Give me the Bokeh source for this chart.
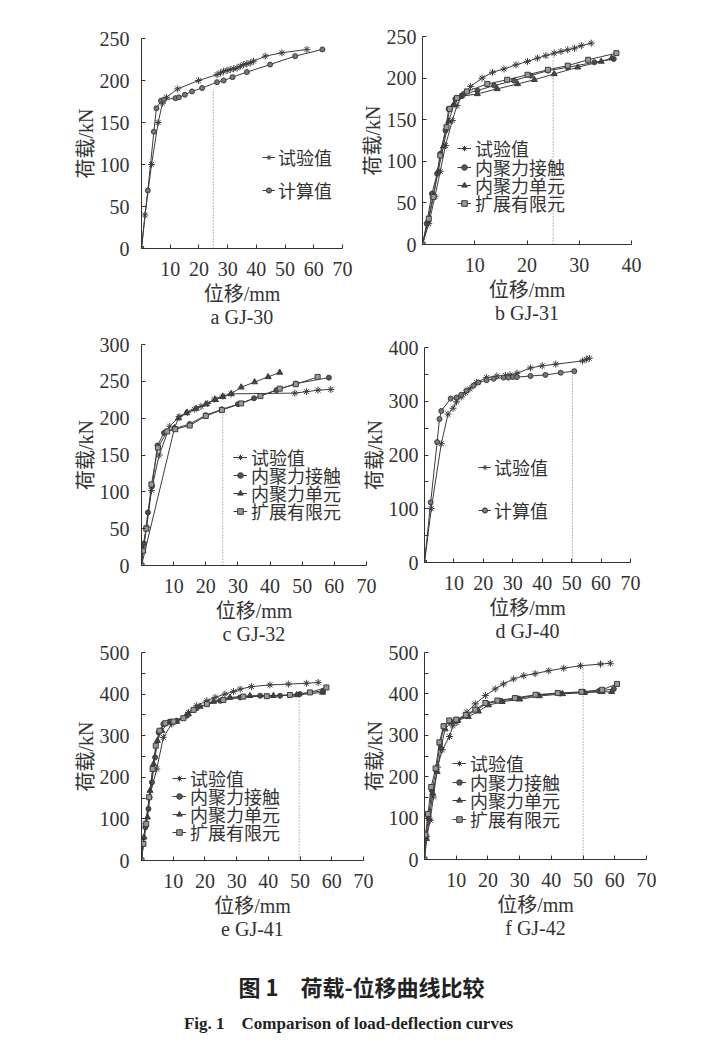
from bokeh.plotting import figure
from bokeh.models import Range1d, FixedTicker, Legend, LegendItem, Label
from bokeh.layouts import column
from bokeh.embed import file_html
from bokeh.resources import INLINE

# ---------------- data (displacement mm / load kN) ----------------
A_TEST_X = [0, 1.2, 3.5, 5.8, 7.3, 8.7, 12.6, 19.9, 26.3, 27.5, 28.6, 29.8, 30.9, 32.1, 33.3, 34.4, 35.6, 36.7, 37.9, 39.0, 43.1, 48.9, 57.6]
A_TEST_Y = [0, 40, 100, 150, 173, 180, 190, 200, 207, 209, 211, 212, 213, 214, 215, 217, 219, 220, 221, 223, 229, 233, 237]
A_CALC_X = [0, 2.2, 4.3, 5.2, 6.8, 7.8, 11.8, 13.0, 15.1, 17.6, 21.1, 26.3, 28.6, 31.7, 36.7, 44.8, 53.5, 63.0]
A_CALC_Y = [0, 69, 139, 167, 176, 177, 179, 180, 183, 187, 191, 198, 200, 204, 210, 219, 229, 237]

B_TEST_X = [0, 1.2, 2.4, 3.4, 4.4, 5.7, 6.6, 7.6, 9.2, 11.4, 13.4, 15.6, 17.9, 20.1, 22.0, 23.6, 25.2, 26.5, 27.8, 29.1, 30.4, 32.3]
B_TEST_Y = [0, 25, 58, 88, 119, 149, 167, 179, 190, 200, 207, 211, 216, 220, 224, 227, 230, 232, 234, 236, 239, 242]
B_CONT_X = [0, 0.8, 1.8, 2.8, 3.4, 4.4, 5.0, 6.3, 7.9, 10.5, 13.7, 17.5, 20.7, 24.0, 27.8, 32.9, 36.6]
B_CONT_Y = [0, 25, 61, 85, 109, 137, 163, 175, 181, 185, 191, 197, 203, 209, 213, 219, 223]
B_ELEM_X = [0, 1.0, 2.0, 3.0, 4.0, 5.0, 6.0, 7.3, 10.5, 14.3, 18.2, 21.4, 25.2, 29.7, 34.2, 36.2]
B_ELEM_Y = [0, 28, 58, 88, 118, 148, 168, 178, 181, 187, 193, 198, 205, 213, 220, 224]
B_XFEM_X = [0, 1.2, 2.1, 3.4, 4.6, 5.2, 6.6, 8.5, 12.4, 16.2, 20.1, 24.0, 27.8, 31.7, 37.1]
B_XFEM_Y = [0, 31, 57, 107, 141, 163, 176, 184, 193, 198, 204, 210, 215, 222, 230]

C_TEST_X = [0, 0.4, 1.6, 3.1, 5.5, 8.8, 11.7, 14.3, 16.4, 18.5, 20.6, 22.7, 25.3, 27.9, 47.7, 51.3, 54.9, 58.9]
C_TEST_Y = [0, 25, 52, 102, 150, 189, 202, 208, 212, 216, 220, 226, 230, 233, 234, 236, 238, 239]
C_CONT_X = [0, 0.8, 2.0, 3.3, 5.0, 7.0, 10.4, 15.0, 20.0, 25.0, 30.0, 35.0, 42.0, 48.0, 58.3]
C_CONT_Y = [0, 30, 72, 108, 163, 180, 186, 192, 204, 212, 219, 227, 238, 247, 255]
C_ELEM_X = [0, 10.3, 11.5, 14.0, 17.0, 20.0, 23.0, 25.3, 27.9, 31.0, 35.2, 39.4, 43.0]
C_ELEM_Y = [0, 187, 200, 207, 213, 219, 225, 229, 233, 242, 249, 256, 262]
C_XFEM_X = [0, 0.5, 1.5, 3.1, 5.1, 8.0, 10.5, 15.0, 20.0, 25.0, 31.0, 37.0, 43.0, 48.0, 54.8]
C_XFEM_Y = [0, 20, 50, 110, 160, 182, 185, 190, 203, 211, 220, 230, 240, 246, 256]

D_TEST_X = [0, 2.3, 5.7, 8.0, 9.7, 10.9, 12.5, 14.0, 15.4, 17.7, 21.1, 24.6, 27.5, 29.1, 31.4, 36.0, 40.0, 44.6, 53.7, 55.0, 56.0]
D_TEST_Y = [0, 100, 221, 276, 287, 299, 308, 316, 323, 335, 344, 347, 348, 349, 352, 362, 366, 369, 375, 378, 380]
D_CALC_X = [0, 2.1, 4.3, 5.1, 5.7, 8.9, 10.9, 12.5, 14.3, 16.6, 18.3, 21.1, 23.5, 26.9, 28.5, 30.0, 31.4, 36.0, 41.1, 46.3, 50.9]
D_CALC_Y = [0, 112, 224, 267, 282, 305, 307, 312, 320, 329, 335, 339, 342, 344, 344, 345, 345, 347, 349, 353, 356]

E_TEST_X = [0, 1.2, 2.5, 4.8, 6.9, 9.5, 14.8, 17.4, 20.6, 23.2, 26.3, 29.0, 31.1, 34.7, 40.5, 46.3, 52.0, 55.7]
E_TEST_Y = [0, 88, 152, 220, 296, 328, 356, 372, 384, 392, 400, 406, 412, 418, 422, 424, 426, 428]
E_CONT_X = [0, 0.4, 1.2, 2.2, 3.3, 4.3, 5.4, 6.9, 9.0, 11.1, 14.3, 17.4, 20.6, 24.8, 31.1, 37.4, 43.7, 49.9, 57.3]
E_CONT_Y = [0, 40, 80, 124, 188, 248, 308, 328, 334, 336, 348, 366, 376, 384, 392, 396, 396, 400, 408]
E_ELEM_X = [0, 0.8, 1.9, 2.7, 3.8, 5.0, 6.4, 8.5, 11.1, 14.8, 18.5, 22.7, 27.9, 34.2, 41.6, 48.9, 57.1]
E_ELEM_Y = [0, 56, 104, 168, 232, 288, 312, 332, 334, 352, 370, 382, 392, 396, 396, 398, 404]
E_XFEM_X = [0, 0.6, 1.5, 2.4, 3.5, 4.5, 5.7, 7.5, 10.1, 13.2, 16.4, 20.6, 25.8, 32.1, 39.5, 46.8, 53.1, 58.3]
E_XFEM_Y = [0, 40, 88, 152, 220, 276, 312, 330, 334, 342, 362, 376, 386, 394, 395, 398, 404, 416]

F_TEST_X = [0, 0.7, 1.8, 2.8, 4.1, 5.6, 7.9, 8.9, 10.2, 13.4, 16.0, 19.2, 22.3, 24.9, 28.1, 31.3, 34.9, 39.2, 43.9, 49.2, 55.5, 58.6]
F_TEST_Y = [0, 55, 95, 151, 223, 265, 297, 323, 331, 356, 376, 396, 412, 424, 436, 444, 449, 456, 462, 468, 472, 474]
F_CONT_X = [0, 0.4, 1.3, 2.3, 3.7, 4.9, 6.2, 8.1, 10.2, 13.4, 16.5, 19.7, 23.9, 29.2, 35.5, 42.8, 50.2, 55.0, 59.7]
F_CONT_Y = [0, 55, 103, 167, 215, 279, 322, 333, 337, 348, 362, 377, 383, 389, 397, 401, 404, 407, 412]
F_ELEM_X = [0, 0.6, 1.5, 2.6, 4.0, 5.2, 6.5, 8.4, 10.5, 13.8, 17.0, 20.2, 24.5, 30.0, 36.2, 43.5, 50.5, 56.0, 59.0]
F_ELEM_Y = [0, 50, 98, 160, 212, 270, 315, 332, 336, 345, 358, 373, 381, 387, 395, 400, 403, 405, 405]
F_XFEM_X = [0, 0.3, 1.1, 2.1, 3.5, 4.7, 6.0, 7.8, 10.0, 13.0, 16.0, 19.2, 23.0, 28.5, 35.0, 42.0, 49.5, 56.0, 60.7]
F_XFEM_Y = [0, 60, 110, 175, 220, 283, 322, 336, 338, 349, 362, 378, 384, 390, 398, 402, 405, 410, 424]

# dotted reference lines: [x, top load]
A_REF = [25, 190]
B_REF = [25, 231]
C_REF = [25.3, 206]
D_REF = [50.3, 357]
E_REF = [49.7, 400]
F_REF = [50, 464]

# labels / ticks
SERIES_TWO = ["试验值", "计算值"]
SERIES_FOUR = ["试验值", "内聚力接触", "内聚力单元", "扩展有限元"]
X_TICKS_70 = [10, 20, 30, 40, 50, 60, 70]
X_TICKS_40 = [10, 20, 30, 40]
Y_TICKS_250 = [0, 50, 100, 150, 200, 250]
Y_TICKS_300 = [0, 50, 100, 150, 200, 250, 300]
Y_TICKS_400 = [0, 100, 200, 300, 400]
Y_MINOR_400 = [50, 150, 250, 350]
Y_TICKS_500 = [0, 100, 200, 300, 400, 500]
Y_MINOR_500 = [50, 150, 250, 350, 450]
X_LABEL = "位移/mm"
Y_LABEL = "荷载/kN"
SUBTITLES = ["a GJ-30", "b GJ-31", "c GJ-32", "d GJ-40", "e GJ-41", "f GJ-42"]
CAPTION_CN = "图 1\u3000荷载-位移曲线比较"
CAPTION_EN = "Fig. 1\u2003Comparison of load-deflection curves"

# ---------------- styling ----------------
SERIF = "Liberation Serif, Noto Sans CJK SC"
INK = "#333333"
LINE = "#3c3c3c"
MARK = {
    "试验值": dict(marker="asterisk", size=7, fill_color=LINE),
    "计算值": dict(marker="circle", size=5, fill_color="#777777"),
    "内聚力接触": dict(marker="circle", size=5, fill_color="#555555"),
    "内聚力单元": dict(marker="triangle", size=6, fill_color="#444444"),
    "扩展有限元": dict(marker="square", size=5, fill_color="#999999"),
}
BL, BR, BT, BB = 90, 24, 16, 110   # generous borders; figures overlap transparently


def panel(frame, xmax, ymax, xticks, yticks, yminor, sub, ystand):
    fl, fr, ft, fb = frame
    w = BL + (fr - fl) + BR
    h = BT + (fb - ft) + BB
    p = figure(width=w, height=h, x_range=Range1d(0, xmax), y_range=Range1d(0, ymax),
               output_backend="svg", toolbar_location=None,
               min_border_left=BL, min_border_right=BR,
               min_border_top=BT, min_border_bottom=BB,
               background_fill_alpha=0, border_fill_alpha=0, outline_line_color=None)
    p.grid.visible = False
    ax, ay = p.xaxis[0], p.yaxis[0]
    ax.ticker = FixedTicker(ticks=xticks, minor_ticks=[])
    ay.ticker = FixedTicker(ticks=yticks, minor_ticks=yminor)
    for a in (ax, ay):
        a.axis_line_color = INK
        a.major_tick_line_color = INK
        a.minor_tick_line_color = INK
        a.major_tick_in = 4
        a.major_tick_out = 0
        a.minor_tick_in = 4
        a.minor_tick_out = 0
        a.major_label_text_font = SERIF
        a.major_label_text_font_size = "20px"
        a.major_label_text_color = INK
        a.axis_label_text_font = SERIF
        a.axis_label_text_font_size = "20px"
        a.axis_label_text_font_style = "normal"
        a.axis_label_text_color = INK
    ax.major_label_standoff = 13
    ax.axis_label_standoff = 4
    ax.axis_label_text_line_height = 1.05
    ax.axis_label = X_LABEL + "\n" + sub
    ay.major_label_standoff = ystand
    ay.axis_label_standoff = 0
    ay.axis_label = Y_LABEL
    p._box = (fl - BL, ft - BT, w, h)
    return p


def add_series(p, xs, ys, name):
    r1 = p.line(xs, ys, line_color=LINE, line_width=1)
    st = MARK[name]
    r2 = p.scatter(xs, ys, marker=st["marker"], size=st["size"], fill_color=st["fill_color"],
                   line_color=LINE, line_width=1)
    return [r1, r2]


def add_ref(p, ref):
    p.segment(x0=[ref[0]], y0=[0], x1=[ref[0]], y1=[ref[1]], line_color="#777777",
              line_width=1, line_dash="1 2")


def add_legends(p, names, rends, gx, vys, gw, stand):
    for name, rr, vy in zip(names, rends, vys):
        lg = Legend(items=[LegendItem(label=name, renderers=rr)], location=(gx, vy),
                    glyph_width=gw, glyph_height=26, label_height=26, label_standoff=stand,
                    padding=0, margin=0, spacing=0, border_line_alpha=0,
                    background_fill_alpha=0, label_text_font=SERIF,
                    label_text_font_size="18px", label_text_color=INK)
        p.add_layout(lg)


# panel a
pa = panel((141, 342, 38, 248), 70, 250, X_TICKS_70, Y_TICKS_250, [], SUBTITLES[0], 12)
add_ref(pa, A_REF)
ra = [add_series(pa, A_TEST_X, A_TEST_Y, "试验值"), add_series(pa, A_CALC_X, A_CALC_Y, "计算值")]
add_legends(pa, SERIES_TWO, ra, 121, [78, 45], 13, 3)

# panel b
pb = panel((422, 631, 36, 244), 40, 250, X_TICKS_40, Y_TICKS_250, [], SUBTITLES[1], 6)
add_ref(pb, B_REF)
rb = [add_series(pb, B_TEST_X, B_TEST_Y, "试验值"), add_series(pb, B_CONT_X, B_CONT_Y, "内聚力接触"),
      add_series(pb, B_ELEM_X, B_ELEM_Y, "内聚力单元"), add_series(pb, B_XFEM_X, B_XFEM_Y, "扩展有限元")]
add_legends(pb, SERIES_FOUR, rb, 35, [83, 64, 46, 28], 14, 4)

# panel c
pc = panel((141, 366, 344, 565), 70, 300, X_TICKS_70, Y_TICKS_300, [], SUBTITLES[2], 12)
add_ref(pc, C_REF)
rc = [add_series(pc, C_TEST_X, C_TEST_Y, "试验值"), add_series(pc, C_CONT_X, C_CONT_Y, "内聚力接触"),
      add_series(pc, C_ELEM_X, C_ELEM_Y, "内聚力单元"), add_series(pc, C_XFEM_X, C_XFEM_Y, "扩展有限元")]
add_legends(pc, SERIES_FOUR, rc, 92, [95, 77, 59, 41], 14, 4)

# panel d
pd_ = panel((424, 630, 347, 562), 70, 400, X_TICKS_70, Y_TICKS_400, Y_MINOR_400, SUBTITLES[3], 6)
add_ref(pd_, D_REF)
rd = [add_series(pd_, D_TEST_X, D_TEST_Y, "试验值"), add_series(pd_, D_CALC_X, D_CALC_Y, "计算值")]
add_legends(pd_, SERIES_TWO, rd, 54, [82, 39], 13, 3)

# panel e
pe = panel((141, 363, 652, 860), 70, 500, X_TICKS_70, Y_TICKS_500, Y_MINOR_500, SUBTITLES[4], 12)
add_ref(pe, E_REF)
re_ = [add_series(pe, E_TEST_X, E_TEST_Y, "试验值"), add_series(pe, E_CONT_X, E_CONT_Y, "内聚力接触"),
       add_series(pe, E_ELEM_X, E_ELEM_Y, "内聚力单元"), add_series(pe, E_XFEM_X, E_XFEM_Y, "扩展有限元")]
add_legends(pe, SERIES_FOUR, re_, 31, [69, 51, 33, 15], 14, 4)

# panel f
pf = panel((424, 646, 652, 859), 70, 500, X_TICKS_70, Y_TICKS_500, Y_MINOR_500, SUBTITLES[5], 6)
add_ref(pf, F_REF)
rf = [add_series(pf, F_TEST_X, F_TEST_Y, "试验值"), add_series(pf, F_CONT_X, F_CONT_Y, "内聚力接触"),
      add_series(pf, F_ELEM_X, F_ELEM_Y, "内聚力单元"), add_series(pf, F_XFEM_X, F_XFEM_Y, "扩展有限元")]
add_legends(pf, SERIES_FOUR, rf, 28, [83, 64, 46, 27], 14, 4)

# caption (positions measured in the rendered page were 90 px right of the intended ones)
CAP_X0, CAP_W, CAP_SHIFT = 58, 600, 90
cap = figure(width=CAP_W, height=83, output_backend="svg", toolbar_location=None,
             x_axis_type=None, y_axis_type=None, min_border=0,
             min_border_left=0, min_border_right=0, min_border_top=0, min_border_bottom=0,
             outline_line_color=None, background_fill_alpha=0, border_fill_alpha=0,
             x_range=Range1d(0, 1), y_range=Range1d(0, 1))
cap.grid.visible = False
cap.add_layout(Label(x=361 - CAP_X0 - CAP_SHIFT, y=53, x_units="screen", y_units="screen",
                     text=CAPTION_CN, text_align="center", text_baseline="middle",
                     text_font="Noto Sans CJK SC", text_font_size="22px",
                     text_font_style="bold", text_color="#222222"))
cap.add_layout(Label(x=348 - CAP_X0 - CAP_SHIFT, y=15, x_units="screen", y_units="screen",
                     text=CAPTION_EN, text_align="center", text_baseline="middle",
                     text_font="Liberation Serif", text_font_size="17px",
                     text_font_style="bold", text_color="#222222"))
cap._box = (CAP_X0, 955, CAP_W, 83)

# place every figure at its own page position by (possibly negative) margins in one column
items = [pa, pb, pc, pd_, pe, pf, cap]
prev_bottom = 0
for it in items:
    x0, y0, w, h = it._box
    it.margin = (y0 - prev_bottom, 0, 0, x0)
    prev_bottom = y0 + h
    del it._box

layout = column(*items)
open("out.html", "w").write(file_html(layout, INLINE))
